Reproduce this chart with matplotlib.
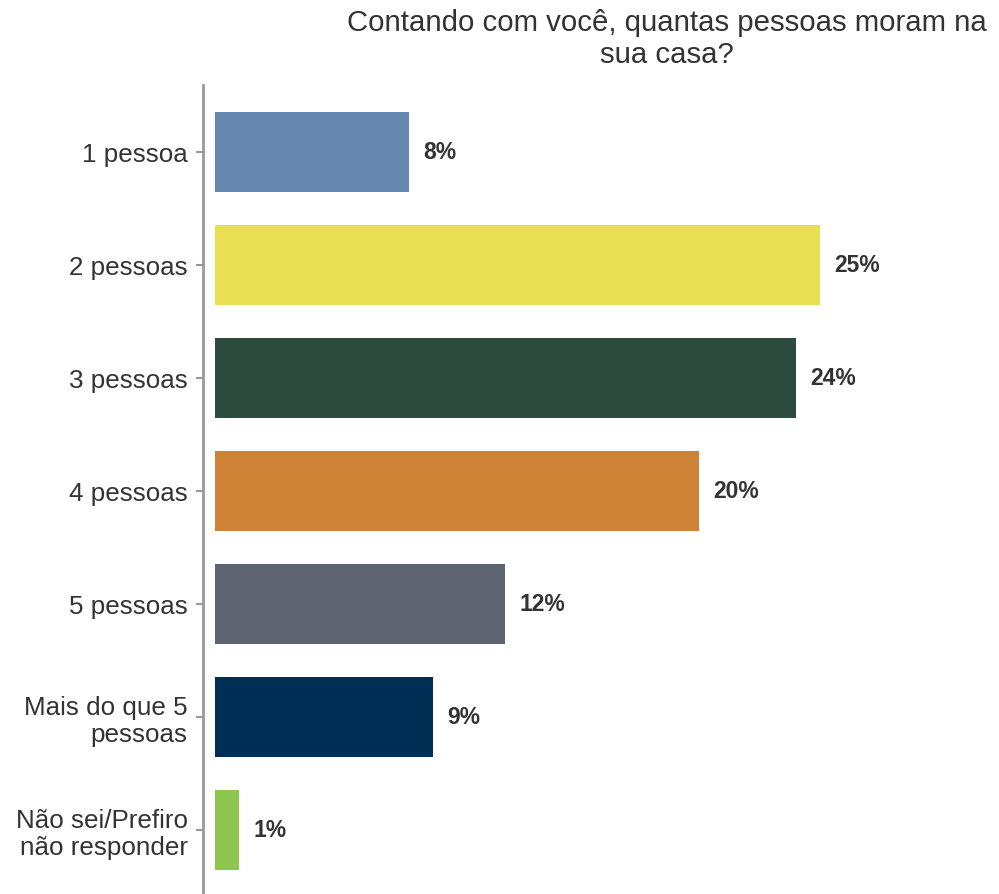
import matplotlib
matplotlib.use("Agg")
import matplotlib.pyplot as plt

plt.rcParams['font.family'] = ['Liberation Sans', 'DejaVu Sans']

# Dados
categorias = ['1 pessoa', '2 pessoas', '3 pessoas', '4 pessoas', '5 pessoas',
              'Mais do que 5\npessoas', 'Não sei/Prefiro\nnão responder']
valores = [8, 25, 24, 20, 12, 9, 1]
cores = ['#6688B0', '#E8E052', '#2D4A3F', '#CD8236', '#5D6470', '#002F55', '#8CC64E']

fig = plt.figure(figsize=(9.99, 8.94), dpi=100)
ax = fig.add_axes([203 / 999, 0, 796 / 999, 809 / 894])

pos = list(range(len(categorias)))
ax.barh(pos, valores, height=0.7, color=cores)

for p, v in zip(pos, valores):
    ax.text(v + 0.6, p, f'{v}%', va='center', ha='left', fontsize=16.5,
            fontweight='bold', color='#333333')

ax.set_xlim(-0.5, 32.4)
ax.set_ylim(6.566, -0.593)
ax.set_yticks(pos)
ax.set_yticklabels(categorias, fontsize=18.7, color='#333333', linespacing=1.2)
ax.tick_params(axis='y', length=5, width=1.5, color='#999999', pad=6)
ax.set_xticks([])

for s in ['top', 'right', 'bottom']:
    ax.spines[s].set_visible(False)
ax.spines['left'].set_color('#999999')
ax.spines['left'].set_linewidth(2)

fig.text(667 / 999, 1 - 39 / 894, 'Contando com você, quantas pessoas moram na\nsua casa?',
         ha='center', va='center', fontsize=21.2, color='#333333', linespacing=1.15)

fig.savefig('out.png', dpi=100)
